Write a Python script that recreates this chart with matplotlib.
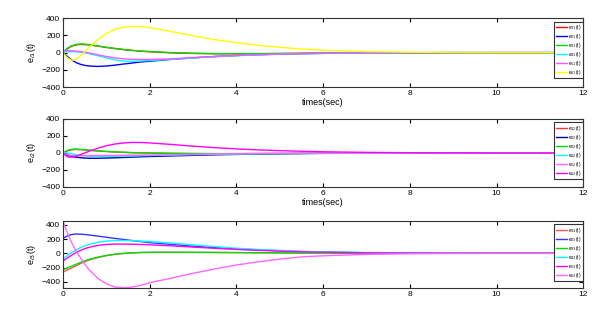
import numpy as np
import matplotlib
matplotlib.use('Agg')
import matplotlib.pyplot as plt

plt.rcParams['font.family'] = ['Liberation Sans', 'DejaVu Sans']

# tiempos de muestreo
t = [0, 0.1, 0.2, 0.3, 0.4, 0.5, 0.6, 0.8, 1.0, 1.2, 1.4, 1.6, 1.8, 2.0,
     2.5, 3, 3.5, 4, 4.5, 5, 5.5, 6, 7, 8, 9, 10, 12]

# panel 1: e_i1(t)
e11 = [0, 45, 75, 90, 95, 94, 90, 76, 60, 47, 35, 25, 17, 10, -2, -9, -12, -13, -12, -10, -8, -6, -3, -1, 0, 0, 0]
e21 = [0, -45, -85, -115, -135, -148, -155, -160, -155, -145, -132, -120, -108, -100, -78, -60, -45, -33, -24, -17, -12, -8, -3, -1, 0, 0, 0]
e31 = [0, 50, 80, 95, 100, 98, 93, 78, 62, 48, 36, 26, 18, 12, 0, -8, -12, -13, -12, -10, -8, -6, -3, -1, 0, 0, 0]
e41 = [10, 12, 12, 10, 5, -3, -12, -35, -60, -85, -98, -100, -97, -92, -78, -62, -48, -36, -26, -19, -13, -9, -4, -1, 0, 0, 0]
e51 = [25, 25, 22, 18, 12, 5, -3, -25, -45, -62, -72, -78, -80, -80, -72, -58, -45, -33, -24, -17, -12, -8, -3, -1, 0, 0, 0]
e61 = [0, -60, -88, -80, -40, 10, 60, 150, 220, 270, 295, 305, 303, 290, 245, 195, 150, 115, 85, 62, 42, 28, 12, 5, 2, 0, 0]

# panel 2: e_i2(t)
e12 = [0, 25, 38, 42, 40, 36, 31, 24, 17, 11, 7, 3, 1, -1, -5, -7, -8, -8, -7, -6, -5, -4, -2, -1, 0, 0, 0]
e22 = [0, -25, -40, -50, -56, -60, -62, -62, -60, -57, -53, -49, -45, -42, -35, -28, -22, -17, -13, -10, -7, -5, -2, -1, 0, 0, 0]
e32 = [0, 30, 43, 45, 42, 38, 33, 25, 18, 12, 8, 4, 2, 0, -4, -7, -8, -8, -7, -6, -5, -4, -2, -1, 0, 0, 0]
e42 = [10, 0, -10, -20, -28, -33, -37, -40, -40, -38, -36, -34, -32, -30, -25, -20, -16, -12, -9, -7, -5, -4, -2, -1, 0, 0, 0]
e52 = [0, -20, -30, -33, -33, -32, -31, -30, -29, -28, -27, -26, -25, -24, -20, -16, -12, -9, -7, -5, -4, -3, -1, 0, 0, 0, 0]
e62 = [0, -45, -50, -40, -20, 0, 20, 55, 85, 105, 118, 124, 123, 118, 100, 80, 62, 48, 36, 27, 20, 14, 7, 3, 1, 0, 0]

# panel 3: e_i3(t)
e13 = [-265, -235, -205, -175, -145, -118, -95, -60, -33, -14, -2, 6, 11, 13, 14, 13, 12, 10, 8, 6, 4, 3, 1, 0, 0, 0, 0]
e23 = [210, 245, 265, 272, 270, 265, 258, 243, 226, 210, 195, 180, 165, 150, 125, 100, 80, 62, 48, 36, 24, 17, 8, 3, 1, 0, 0]
e33 = [-230, -205, -180, -155, -130, -105, -85, -55, -30, -12, 0, 8, 12, 14, 15, 14, 12, 10, 8, 6, 4, 3, 1, 0, 0, 0, 0]
e43 = [-80, -30, 10, 45, 80, 105, 125, 155, 172, 180, 180, 177, 172, 165, 145, 120, 95, 72, 54, 40, 28, 20, 9, 4, 1, 0, 0]
e53 = [-110, -65, -25, 10, 40, 65, 85, 110, 125, 130, 130, 128, 125, 120, 105, 88, 70, 55, 42, 31, 22, 16, 7, 3, 1, 0, 0]
e63 = [450, 290, 150, 30, -60, -150, -230, -350, -430, -475, -485, -475, -450, -414, -350, -282, -220, -165, -120, -82, -50, -35, -15, -6, -2, 0, 0]

paneles = [
    ([e11, e21, e31, e41, e51, e61],
     ['#ff0000', '#0000ff', '#00e000', '#00ffff', '#ff55ff', '#ffff00'],
     ['e$_{11}$(t)', 'e$_{21}$(t)', 'e$_{31}$(t)', 'e$_{41}$(t)', 'e$_{51}$(t)', 'e$_{61}$(t)'],
     'e$_{i1}$(t)', (-400, 400), [0.103, 0.726, 0.850, 0.217]),
    ([e12, e22, e32, e42, e52, e62],
     ['#ff3333', '#0000b0', '#00e000', '#00ffff', '#ff66ff', '#ff00ff'],
     ['e$_{12}$(t)', 'e$_{22}$(t)', 'e$_{32}$(t)', 'e$_{42}$(t)', 'e$_{52}$(t)', 'e$_{62}$(t)'],
     'e$_{i2}$(t)', (-400, 400), [0.103, 0.412, 0.850, 0.214]),
    ([e13, e23, e33, e43, e53, e63],
     ['#ff5555', '#3333ff', '#00e000', '#00ffff', '#ff00ff', '#ff66ff'],
     ['e$_{13}$(t)', 'e$_{23}$(t)', 'e$_{33}$(t)', 'e$_{43}$(t)', 'e$_{53}$(t)', 'e$_{63}$(t)'],
     'e$_{i3}$(t)', (-490, 455), [0.103, 0.094, 0.850, 0.211]),
]

fig = plt.figure(figsize=(6.12, 3.18), dpi=100)

for k, (series, colores, etiquetas, ylab, ylim, pos) in enumerate(paneles):
    ax = fig.add_axes(pos)
    for s, c, lab in zip(series, colores, etiquetas):
        ax.plot(t, s, color=c, linewidth=1.0, label=lab)
    ax.set_xlim(0, 12)
    ax.set_ylim(*ylim)
    ax.set_xticks([0, 2, 4, 6, 8, 10, 12])
    ax.set_yticks([-400, -200, 0, 200, 400])
    ax.tick_params(direction='in', top=True, right=True, labelsize=6,
                   length=3, width=0.8, pad=2)
    for sp in ax.spines.values():
        sp.set_linewidth(0.8)
        sp.set_color('#333333')
    ax.set_ylabel(ylab, fontsize=6.5, labelpad=2)
    if k < 2:
        ax.set_xlabel('times(sec)', fontsize=6.5, labelpad=1)
    leg = ax.legend(loc='upper right', bbox_to_anchor=(1.0, 0.95), fontsize=3.5,
                    handlelength=2.4, handletextpad=0.2, labelspacing=0.0,
                    borderpad=0.3, borderaxespad=0.0, fancybox=False,
                    framealpha=1)
    leg.get_frame().set_edgecolor('#333333')
    leg.get_frame().set_linewidth(0.8)

plt.savefig('out.png', dpi=100)
plt.close()
